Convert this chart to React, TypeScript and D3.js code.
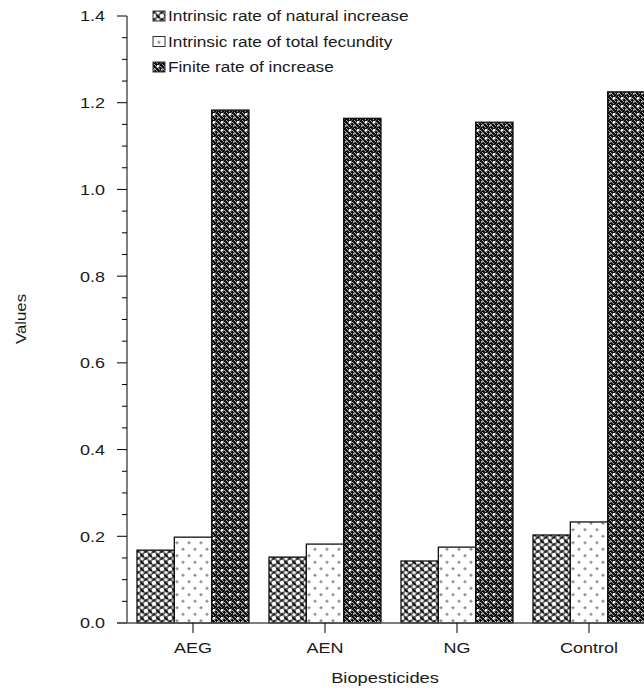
import React from "react";
import * as d3 from "d3";

const categories = ["AEG", "AEN", "NG", "Control"];
const seriesNames = [
  "Intrinsic rate of natural increase",
  "Intrinsic rate of total fecundity",
  "Finite rate of increase",
];
const naturalIncrease = [0.168, 0.152, 0.143, 0.203];
const totalFecundity = [0.198, 0.182, 0.175, 0.233];
const finiteRate = [1.183, 1.164, 1.155, 1.225];
const yTicks = [0, 0.2, 0.4, 0.6, 0.8, 1.0, 1.2, 1.4];

const W = 644;
const H = 693;
const left = 127;
const top = 16;
const bottom = 623;
const bandW = 132;

function SText(props: {
  x: number;
  y: number;
  anchor?: string;
  sx?: number;
  size?: number;
  rotate?: number;
  children: React.ReactNode;
}) {
  const { x, y, anchor = "start", sx = 1.17, size = 15, rotate = 0 } = props;
  return (
    <text
      transform={`translate(${x},${y}) rotate(${rotate}) scale(${sx},1)`}
      textAnchor={anchor}
      dy="0.36em"
      fontSize={size}
      fill="#1a1a1a"
    >
      {props.children}
    </text>
  );
}

export default function App() {
  const series = [naturalIncrease, totalFecundity, finiteRate];
  const y = d3.scaleLinear().domain([0, 1.4]).range([bottom, top]);
  const x = d3
    .scaleBand<string>()
    .domain(categories)
    .range([left, left + bandW * categories.length])
    .paddingInner(0)
    .paddingOuter(0);
  const inner = d3
    .scaleBand<number>()
    .domain([0, 1, 2])
    .range([10, bandW - 10]);
  const minor = d3.range(0, 1.4001, 0.05);
  const patIds = ["p1", "p2", "p3"];
  const font = "Liberation Sans, Arial, sans-serif";

  return (
    <svg
      width={W}
      height={H}
      style={{ position: "absolute", left: 0, top: 0, background: "#fff" }}
      fontFamily={font}
    >
      <defs>
        <pattern id="p1" width="8" height="7" patternUnits="userSpaceOnUse">
          <rect width="8" height="7" fill="#6a6a6a" />
          <circle cx="2" cy="2" r="2.1" fill="#fff" />
          <circle cx="6" cy="5.5" r="1.6" fill="#eee" />
          <path d="M4.5,1 L7.5,4" stroke="#000" strokeWidth="1.4" />
          <path d="M0.5,6.5 L3,4.5" stroke="#111" strokeWidth="1.2" />
        </pattern>
        <pattern id="p2" width="12" height="13" patternUnits="userSpaceOnUse">
          <rect width="12" height="13" fill="#fff" />
          <path d="M3,1.2 L5,3.2 L3,5.2 L1,3.2 Z" fill="#aaa" />
          <rect x="2.5" y="2.7" width="1" height="1" fill="#666" />
          <path d="M9,7.7 L11,9.7 L9,11.7 L7,9.7 Z" fill="#aaa" />
          <rect x="8.5" y="9.2" width="1" height="1" fill="#666" />
        </pattern>
        <pattern id="p3" width="8" height="8" patternUnits="userSpaceOnUse">
          <rect width="8" height="8" fill="#0d0d0d" />
          <path d="M-1,1 L7,9 M1,-1 L9,7" stroke="#bbb" strokeWidth="0.9" />
          <path d="M0,8 L8,0" stroke="#666" strokeWidth="0.8" />
          <rect x="5" y="1" width="2.4" height="2.4" fill="#fff" />
          <rect x="1" y="5" width="1.6" height="1.6" fill="#ccc" />
        </pattern>
      </defs>

      {/* bars */}
      {categories.map((c, ci) =>
        series.map((s, si) => {
          const x0 = (x(c) ?? 0) + (inner(si) ?? 0);
          const yv = y(s[ci]);
          return (
            <rect
              key={c + si}
              x={x0}
              y={yv}
              width={inner.bandwidth()}
              height={bottom - yv}
              fill={`url(#${patIds[si]})`}
              stroke="#111"
              strokeWidth={1.3}
            />
          );
        })
      )}

      {/* y axis */}
      <line x1={left} x2={left} y1={top} y2={bottom} stroke="#000" strokeWidth={1} />
      {minor.map((v, i) => (
        <line
          key={"m" + i}
          x1={left - (i % 4 === 0 ? 10 : 5)}
          x2={left}
          y1={y(v)}
          y2={y(v)}
          stroke="#000"
        />
      ))}
      {yTicks.map((v) => (
        <SText key={"t" + v} x={105} y={y(v)} anchor="end" sx={1.2}>
          {v.toFixed(1)}
        </SText>
      ))}

      {/* x axis */}
      <line x1={117} x2={W} y1={bottom} y2={bottom} stroke="#555" strokeWidth={1.5} />
      {categories.map((c) => {
        const cx = (x(c) ?? 0) + x.bandwidth() / 2;
        return (
          <g key={"x" + c}>
            <line x1={cx} x2={cx} y1={bottom} y2={bottom + 10} stroke="#000" />
            <SText x={cx} y={648} anchor="middle" sx={1.2}>
              {c}
            </SText>
          </g>
        );
      })}

      {/* axis titles */}
      <SText x={385} y={678} anchor="middle" sx={1.22}>
        Biopesticides
      </SText>
      <SText x={21} y={319} anchor="middle" rotate={-90} sx={1.12}>
        Values
      </SText>

      {/* legend */}
      {seriesNames.map((n, i) => (
        <g key={n}>
          <rect
            x={153}
            y={11 + i * 25.5}
            width={12}
            height={10}
            fill={`url(#${patIds[i]})`}
            stroke="#333"
            strokeWidth={1}
          />
          <SText x={168} y={16 + i * 25.5} sx={1.15}>
            {n}
          </SText>
        </g>
      ))}
    </svg>
  );
}
